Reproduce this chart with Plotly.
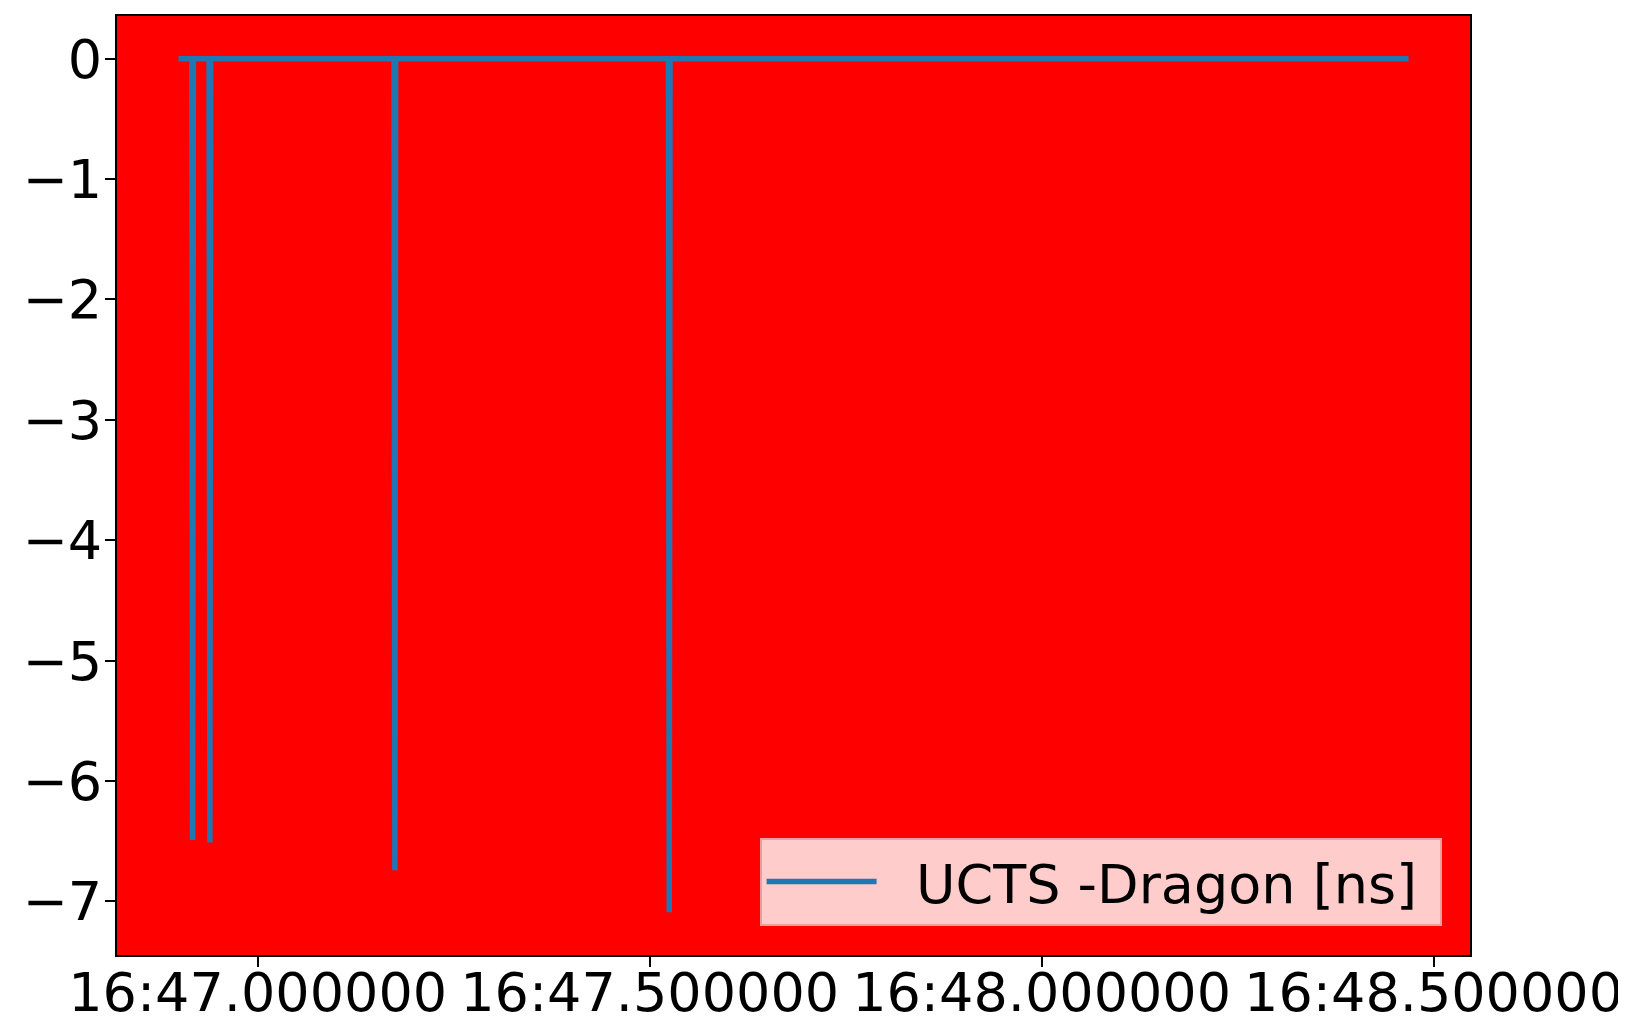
import pandas as pd
import plotly.graph_objects as go

# Data: seconds after 16:46 (minute:second), and UCTS - Dragon difference [ns]
base_time = "2019-11-20 20:16:00"
seconds = [46.899, 46.916, 46.917, 46.918, 46.938, 46.939, 46.940,
           47.174, 47.175, 47.176, 47.524, 47.525, 47.526, 48.468]
diff_ns = [0, 0, -6.49, 0, 0, -6.51, 0,
           0, -6.74, 0, 0, -7.09, 0, 0]
series_name = "UCTS -Dragon [ns]"

x_tick_seconds = [47.0, 47.5, 48.0, 48.5]
x_tick_labels = ["16:47.000000", "16:47.500000", "16:48.000000", "16:48.500000"]
y_ticks = [0, -1, -2, -3, -4, -5, -6, -7]

t0 = pd.Timestamp(base_time)
def to_time(s):
    return (t0 + pd.to_timedelta(s, unit="s")).strftime("%Y-%m-%d %H:%M:%S.%f")

x_vals = [to_time(s) for s in seconds]
x_ticks = [to_time(s) for s in x_tick_seconds]

span = max(seconds) - min(seconds)
x_range = [to_time(min(seconds) - 0.05 * span), to_time(max(seconds) + 0.05 * span)]
yspan = max(diff_ns) - min(diff_ns)
y_range = [min(diff_ns) - 0.05 * yspan, max(diff_ns) + 0.05 * yspan]

font_family = "DejaVu Sans"
fs = 54

fig = go.Figure()
fig.add_trace(go.Scatter(
    x=x_vals, y=diff_ns, mode="lines",
    name="\u00a0\u00a0" + series_name + "\u00a0",
    line=dict(color="#1f77b4", width=5.5),
    showlegend=True,
))

fig.update_layout(
    width=1626, height=1020,
    margin=dict(l=109, r=164, t=8, b=73),
    paper_bgcolor="white",
    plot_bgcolor="#ff0000",
    font=dict(family=font_family, size=fs, color="black"),
    showlegend=True,
    legend=dict(
        x=0.979, y=0.031, xanchor="right", yanchor="bottom",
        bgcolor="rgba(255,255,255,0.8)",
        bordercolor="rgba(235,160,160,1)", borderwidth=2,
        font=dict(family=font_family, size=fs),
        itemwidth=110,
    ),
)

fig.update_xaxes(
    type="date", range=x_range, automargin=False,
    tickvals=x_ticks, ticktext=x_tick_labels,
    showgrid=False, zeroline=False,
    showline=True, mirror=True, linecolor="black", linewidth=2,
    ticks="outside", ticklen=10, tickwidth=2, tickcolor="black",
    tickfont=dict(family=font_family, size=fs),
    ticklabelstandoff=-21,
)
fig.update_yaxes(
    range=y_range, tickvals=y_ticks, automargin=False,
    showgrid=False, zeroline=False,
    showline=True, mirror=True, linecolor="black", linewidth=2,
    ticks="outside", ticklen=10, tickwidth=2, tickcolor="black",
    tickfont=dict(family=font_family, size=fs),
    ticklabelstandoff=-8,
)

fig.write_html("out.html")
